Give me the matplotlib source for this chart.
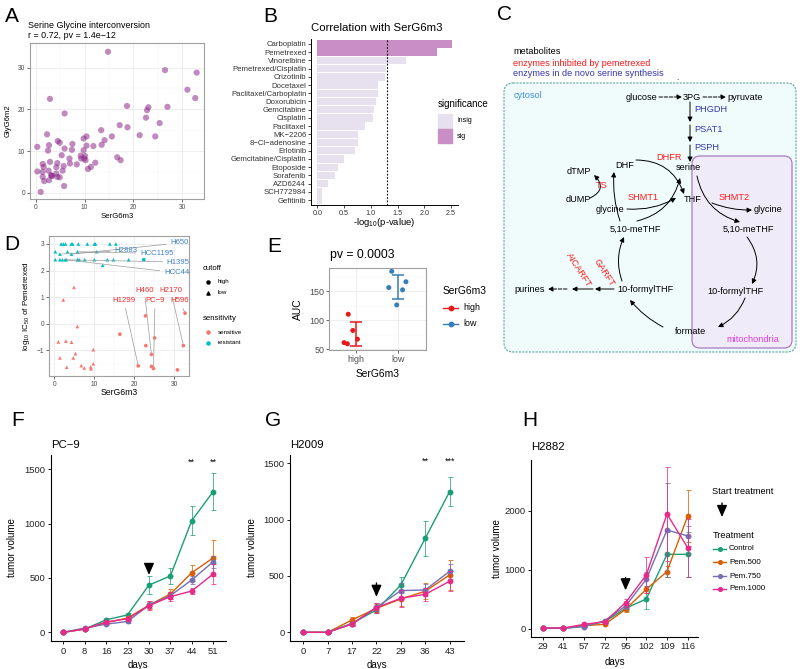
import numpy as np
import matplotlib
matplotlib.use('Agg')
import matplotlib.pyplot as plt
from matplotlib.patches import FancyBboxPatch, Rectangle

plt.rcParams['font.family'] = ['Liberation Sans', 'DejaVu Sans']
plt.rcParams['mathtext.default'] = 'regular'

W, H = 800, 669

# ---------------- data ----------------
# A: SerG6m3 vs GlyG6m2
a_ser = [14.8, 26.5, 33.0, 31.1, 32.7, 2.9, 18.7, 23.1, 27.0, 22.8, 22.6, 5.9, 17.2, 18.8,
         25.4, 13.4, 15.6, 21.3, 24.5, 2.3, 10.4, 9.8, 14.1, 4.5, 4.9, 0.3, 2.7, 7.5, 11.8,
         13.5, 10.4, 2.5, 9.8, 7.4, 5.9, 5.3, 9.2, 10.1, 9.3, 9.9, 6.9, 16.7, 17.4, 2.9, 10.2,
         12.2, 8.4, 7.0, 4.4, 1.4, 1.6, 10.7, 11.3, 5.7, 0.3, 1.4, 4.2, 2.6, 3.1, 3.3, 2.7,
         1.7, 5.5, 4.4, 4.9, 1.4, 5.8, 1.0, 4.2, 3.3]
a_gly = [33.8, 29.4, 28.8, 24.7, 22.7, 22.5, 20.8, 20.5, 20.6, 19.8, 18.0, 19.0, 16.2, 15.7,
         16.7, 15.0, 13.5, 13.8, 13.5, 14.0, 13.5, 13.0, 12.6, 12.4, 12.0, 11.0, 11.4, 11.7,
         11.2, 11.5, 11.3, 10.1, 10.2, 10.3, 10.6, 9.0, 8.9, 8.8, 8.2, 8.2, 8.2, 8.5, 7.8, 7.4,
         7.8, 7.2, 6.8, 7.0, 7.1, 6.9, 6.2, 5.7, 6.2, 6.4, 5.1, 5.0, 6.1, 5.3, 4.2, 4.1, 3.0,
         2.8, 5.3, 3.8, 3.7, 3.8, 1.6, 0.2, 4.6, 4.0]

# B: correlation with SerG6m3
b_drugs = ['Carboplatin', 'Pemetrexed', 'Vinorelbine', 'Pemetrexed/Cisplatin', 'Crizotinib',
           'Docetaxel', 'Paclitaxel/Carboplatin', 'Doxorubicin', 'Gemcitabine', 'Cisplatin',
           'Paclitaxel', 'MK\u22122206', '8\u2212Cl\u2212adenosine', 'Erlotinib',
           'Gemcitabine/Cisplatin', 'Etoposide', 'Sorafenib', 'AZD6244', 'SCH772984', 'Gefitinib']
b_logp = [2.52, 2.23, 1.65, 1.28, 1.26, 1.14, 1.13, 1.10, 1.05, 1.04, 0.89, 0.76, 0.75, 0.70,
          0.49, 0.39, 0.32, 0.19, 0.09, 0.08]
b_sig = ['sig', 'sig'] + ['insig'] * 18

# D: IC50 of pemetrexed
d_ser = [1.7, 2.25, 2.8, 4.25, 4.6, 6.0, 8.25, 10.0, 10.3, 13.9, 15.4,
         0.25, 1.4, 3.3, 4.3, 5.8, 10.6,
         0.25, 1.4, 2.0, 2.7, 3.0, 5.8, 6.2, 7.6, 10.0, 13.25, 14.8, 18.6, 22.4, 12.1,
         4.9, 2.25, 5.75, 1.0, 2.9, 4.3, 9.75, 5.3, 1.4, 4.75, 9.75, 6.75, 7.5, 9.1, 9.2, 3.1,
         16.4, 21.0, 22.8, 22.9, 24.3, 25.1, 24.3, 24.8, 32.7, 32.3, 30.8]
d_ic50 = [3.0] * 11 + [2.71, 2.62, 2.71, 2.62, 2.71, 2.71] + [2.41] * 13 + [2.2] + \
         [1.37, 0.9, -0.1, -0.68, -0.65, -0.69, -0.97, -1.12, -1.28, -1.28, -1.5, -1.57,
          -1.66, -1.62, -1.69, -1.63,
          -0.39, -1.58, 0.3, -0.82, -1.15, -0.53, -1.6, -1.68, 0.4, -0.82, -1.73]
d_cutoff = ['low'] * 29 + ['high'] + ['low'] + ['low'] * 16 + ['high'] * 11
d_sens = ['resistant'] * 31 + ['sensitive'] * 27
d_lab = ['H650', 'H2883', 'HCC1195', 'H1395', 'HCC44', 'H460', 'H2170', 'H1299', 'PC\u22129', 'H596']
d_lab_xy = [(31.4, 3.04), (17.9, 2.75), (25.6, 2.65), (31.0, 2.32), (30.6, 1.92),
            (22.5, 1.27), (29.1, 1.27), (17.4, 0.86), (25.2, 0.86), (31.4, 0.86)]
d_lab_pt = [(4.3, 2.62), (1.4, 2.62), (5.8, 2.71), (2.0, 2.41), (2.7, 2.41),
            (24.3, -1.15), (32.3, -0.82), (21.0, -1.58), (24.8, -1.68), (32.7, 0.4)]

# E: AUC by SerG6m3 group
e_groups = ['high', 'low']
e_high = [110, 82, 67, 61, 59]
e_high_jit = [-0.18, -0.07, 0.04, -0.28, -0.2]
e_low = [184, 156, 166, 152, 126]
e_low_jit = [-0.14, -0.21, 0.2, 0.12, -0.02]

# F/G/H: tumor growth
treat = ['Control', 'Pem.500', 'Pem.750', 'Pem.1000']
f_days = ['0', '8', '16', '23', '30', '37', '44', '51']
f_mean = {'Control': [0, 30, 115, 160, 435, 518, 1028, 1295],
          'Pem.500': [0, 30, 90, 130, 250, 352, 548, 685],
          'Pem.750': [0, 40, 75, 100, 250, 337, 482, 650],
          'Pem.1000': [0, 30, 95, 125, 245, 328, 380, 537]}
f_err = {'Control': [5, 10, 15, 20, 85, 75, 135, 170],
         'Pem.500': [5, 8, 12, 15, 35, 45, 72, 168],
         'Pem.750': [5, 8, 10, 15, 30, 35, 40, 55],
         'Pem.1000': [5, 8, 12, 15, 40, 40, 30, 95]}
f_stars = {'44': '**', '51': '**'}

g_days = ['0', '7', '17', '22', '29', '36', '43']
g_mean = {'Control': [0, 0, 80, 198, 420, 834, 1248],
          'Pem.500': [0, 0, 110, 213, 296, 364, 509],
          'Pem.750': [0, 0, 74, 222, 370, 376, 541],
          'Pem.1000': [0, 0, 74, 219, 302, 337, 453]}
g_err = {'Control': [3, 3, 15, 30, 74, 157, 128],
         'Pem.500': [3, 3, 25, 35, 60, 70, 133],
         'Pem.750': [3, 3, 15, 35, 70, 55, 65],
         'Pem.1000': [3, 3, 15, 45, 75, 60, 90]}
g_stars = {'36': '**', '43': '***'}

h_days = ['29', '41', '57', '72', '95', '102', '109', '116']
h_mean = {'Control': [11, 11, 50, 124, 350, 508, 1265, 1265],
          'Pem.500': [11, 11, 56, 79, 333, 672, 972, 1915],
          'Pem.750': [11, 11, 40, 141, 390, 842, 1678, 1576],
          'Pem.1000': [17, 17, 79, 124, 446, 915, 1949, 1378]}
h_err = {'Control': [5, 5, 15, 20, 50, 170, 380, 380],
         'Pem.500': [5, 5, 15, 20, 50, 60, 90, 440],
         'Pem.750': [5, 5, 15, 20, 50, 120, 800, 170],
         'Pem.1000': [5, 5, 15, 20, 70, 300, 800, 490]}

treat_col = {'Control': '#1B9E77', 'Pem.500': '#D95F02', 'Pem.750': '#7570B3', 'Pem.1000': '#E7298A'}


def box(l, t, r, b):
    return [l / W, 1 - b / H, (r - l) / W, (b - t) / H]


def bw(ax, xminor, yminor, lsize=4.8):
    ax.set_axisbelow(True)
    ax.set_xticks(xminor, minor=True)
    ax.set_yticks(yminor, minor=True)
    ax.grid(True, which='major', color='#EBEBEB', lw=0.6)
    ax.grid(True, which='minor', color='#F5F5F5', lw=0.35)
    ax.tick_params(which='minor', length=0)
    ax.tick_params(which='major', length=2.2, width=0.5, color='#333333',
                   labelsize=lsize, labelcolor='#4D4D4D', pad=1.2)
    for s in ax.spines.values():
        s.set_color('#A0A0A0')
        s.set_linewidth(0.8)


fig = plt.figure(figsize=(8, 6.69), dpi=100)
ov = fig.add_axes([0, 0, 1, 1])
ov.set_xlim(0, W)
ov.set_ylim(H, 0)
ov.axis('off')
ov.set_zorder(10)

for lab, x, y in [('A', 12, 16), ('B', 270, 16), ('C', 505, 14), ('D', 12, 245),
                  ('E', 274, 246), ('F', 18, 420), ('G', 273, 420), ('H', 530, 420)]:
    ov.text(x, y, lab, fontsize=15, ha='center', va='center')

# ---------------- A ----------------
axA = fig.add_axes(box(30, 43, 204, 199))
axA.scatter(a_ser, a_gly, s=20, color='#8E2B8C', alpha=0.55, edgecolors='none')
axA.set_xlim(-1.2, 34.5)
axA.set_ylim(-1.5, 35.9)
axA.set_xticks([0, 10, 20, 30])
axA.set_yticks([0, 10, 20, 30])
bw(axA, [5, 15, 25], [5, 15, 25, 35])
axA.set_xlabel('SerG6m3', fontsize=5.6)
axA.set_ylabel('GlyG6m2', fontsize=5.6)
axA.xaxis.set_label_coords(0.5, -0.09)
axA.yaxis.set_label_coords(-0.103, 0.5)
ov.text(28, 25, 'Serine Glycine interconversion', fontsize=6.4, ha='left', va='center')
ov.text(28, 36, 'r = 0.72, pv = 1.4e\u221212', fontsize=6.4, ha='left', va='center')

# ---------------- B ----------------
axB = fig.add_axes(box(311, 39, 458, 205))
b_col = {'insig': '#E6E0EF', 'sig': '#C98EC6'}
axB.barh(range(len(b_drugs)), b_logp, height=0.9, color=[b_col[s] for s in b_sig])
axB.axvline(-np.log10(0.05), color='black', lw=0.8, ls=(0, (1.5, 1.5)))
axB.set_ylim(len(b_drugs) - 0.4, -0.6)
axB.set_xlim(-0.12, 2.63)
axB.set_yticks(range(len(b_drugs)))
axB.set_yticklabels(b_drugs)
axB.set_xticks([0, 0.5, 1.0, 1.5, 2.0, 2.5])
axB.set_xticklabels(['0.0', '0.5', '1.0', '1.5', '2.0', '2.5'])
axB.tick_params(axis='y', labelsize=5.6, length=2.2, width=0.5, pad=1.2, labelcolor='#333333')
axB.tick_params(axis='x', labelsize=5.2, length=2.2, width=0.5, pad=1.5, labelcolor='#333333')
for s in ['top', 'right']:
    axB.spines[s].set_visible(False)
for s in ['left', 'bottom']:
    axB.spines[s].set_linewidth(0.7)
axB.set_xlabel('-log$_{10}$(p-value)', fontsize=6.8)
axB.xaxis.set_label_coords(0.5, -0.065)
ov.text(377, 28, 'Correlation with SerG6m3', fontsize=8.2, ha='center', va='center')
ov.text(438, 104, 'significance', fontsize=7, ha='left', va='center')
ov.add_patch(Rectangle((438, 114), 14, 14, color=b_col['insig']))
ov.add_patch(Rectangle((438, 129), 14, 14, color=b_col['sig']))
ov.text(457, 121, 'insig', fontsize=5, ha='left', va='center')
ov.text(457, 136, 'sig', fontsize=5, ha='left', va='center')

# ---------------- C ----------------
red, blue = '#FF1A1A', '#3434B0'
ov.add_patch(FancyBboxPatch((504, 83), 292, 269, boxstyle='round,pad=0,rounding_size=9',
                            facecolor='#F0FCFC', edgecolor='#5FA9A2', lw=0.8, ls=(0, (2, 1))))
ov.add_patch(FancyBboxPatch((692, 156), 100, 192, boxstyle='round,pad=0,rounding_size=8',
                            facecolor='#EFEBF8', edgecolor='#A77BC0', lw=0.9))
c_text = [('metabolites', 513, 52, 'black', 'left'),
          ('enzymes inhibited by pemetrexed', 513, 63, red, 'left'),
          ('enzymes in de novo serine synthesis', 513, 74, blue, 'left'),
          ('cytosol', 514, 96, '#3D8FDB', 'left'),
          ('glucose', 641, 97, 'black', 'center'), ('3PG', 692, 97, 'black', 'center'),
          ('pyruvate', 745, 97, 'black', 'center'),
          ('PHGDH', 694, 110, blue, 'left'), ('PSAT1', 694, 130, blue, 'left'),
          ('PSPH', 694, 148, blue, 'left'),
          ('serine', 688, 168, 'black', 'center'), ('DHFR', 669, 158, red, 'center'),
          ('DHF', 625, 165, 'black', 'center'), ('dTMP', 579, 172, 'black', 'center'),
          ('TS', 602, 186, red, 'center'), ('dUMP', 578, 199, 'black', 'center'),
          ('SHMT1', 643, 197, red, 'center'), ('THF', 693, 199, 'black', 'center'),
          ('SHMT2', 734, 197, red, 'center'), ('glycine', 610, 209, 'black', 'center'),
          ('glycine', 768, 210, 'black', 'center'), ('5,10-meTHF', 635, 229, 'black', 'center'),
          ('5,10-meTHF', 748, 229, 'black', 'center'), ('purines', 530, 289, 'black', 'center'),
          ('10-formylTHF', 645, 289, 'black', 'center'),
          ('10-formylTHF', 735, 291, 'black', 'center'),
          ('formate', 691, 332, 'black', 'center'), ('mitochondria', 753, 339, '#E03CE0', 'center')]
for t, x, y, c, ha in c_text:
    ov.text(x, y, t, fontsize=6.6, color=c, ha=ha, va='center')
ov.text(579, 270, 'AICARFT', fontsize=6.6, color=red, rotation=-57, ha='center', va='center')
ov.text(604, 273, 'GARFT', fontsize=6.6, color=red, rotation=-57, ha='center', va='center')
ov.text(677, 78, '.', fontsize=6, ha='center', va='center')

c_arrows = [(659, 97, 682, 97, 0, '--'), (703, 97, 726, 97, 0, '--'),
            (690, 102, 690, 122, 0, '-'), (690, 125, 690, 142, 0, '-'),
            (690, 145, 690, 162, 0, '-'),
            (636, 160, 684, 194, -0.35, '-'), (590, 198, 594, 175, 0.7, '-'),
            (620, 221, 614, 172, -0.1, '-'), (637, 221, 680, 178, 0.3, '-'),
            (627, 209, 676, 198, 0.15, '-'), (697, 176, 740, 222, 0.3, '-'),
            (712, 203, 752, 210, 0.1, '-'), (747, 237, 752, 284, -0.3, '-'),
            (745, 298, 718, 327, -0.2, '-'), (663, 327, 630, 300, -0.1, '-'),
            (622, 281, 624, 237, -0.2, '-'), (614, 289, 595, 289, 0, '-'),
            (593, 289, 572, 289, 0, '-'), (567, 289, 548, 289, 0, '--')]
for x0, y0, x1, y1, rad, ls in c_arrows:
    ov.annotate('', xy=(x1, y1), xytext=(x0, y0),
                arrowprops=dict(arrowstyle='-|>', color='black', lw=0.7, ls=ls,
                                mutation_scale=7, shrinkA=0, shrinkB=0,
                                connectionstyle='arc3,rad=%s' % rad))

# ---------------- D ----------------
axD = fig.add_axes(box(49, 236, 189, 376))
d_ser = np.array(d_ser)
d_ic50 = np.array(d_ic50)
d_col = {'sensitive': '#F8766D', 'resistant': '#00BFC4'}
d_mk = {'high': 'o', 'low': '^'}
for cut in ['high', 'low']:
    for sen in ['sensitive', 'resistant']:
        m = np.array([(c == cut and s == sen) for c, s in zip(d_cutoff, d_sens)])
        axD.scatter(d_ser[m], d_ic50[m], s=7, marker=d_mk[cut], color=d_col[sen],
                    edgecolors='none', zorder=3)
for lab, (tx, ty), (px, py) in zip(d_lab, d_lab_xy, d_lab_pt):
    col = '#3F82C4' if ty > 1.5 else '#EE3030'
    axD.annotate(lab, xy=(px, py), xytext=(tx, ty), fontsize=5.6, color=col,
                 ha='center', va='center', zorder=4,
                 arrowprops=dict(arrowstyle='-', color='#9A9A9A', lw=0.5, shrinkA=1, shrinkB=1))
axD.set_xlim(-1.33, 33.7)
axD.set_ylim(-1.96, 3.3)
axD.set_xticks([0, 10, 20, 30])
axD.set_yticks([-1, 0, 1, 2, 3])
bw(axD, [5, 15, 25], [-1.5, -0.5, 0.5, 1.5, 2.5])
axD.set_xlabel('SerG6m3', fontsize=6.2)
axD.set_ylabel('log$_{10}$ IC$_{50}$ of Pemetrexed', fontsize=5.8)
axD.xaxis.set_label_coords(0.5, -0.085)
axD.yaxis.set_label_coords(-0.12, 0.5)
ov.text(203, 268, 'cutoff', fontsize=5.6, ha='left', va='center')
ov.scatter([208], [282], s=5, marker='o', color='black')
ov.scatter([208], [293], s=5, marker='^', color='black')
ov.text(218, 282, 'high', fontsize=4.5, ha='left', va='center')
ov.text(218, 293, 'low', fontsize=4.5, ha='left', va='center')
ov.text(203, 318, 'sensitivity', fontsize=5.6, ha='left', va='center')
ov.scatter([208], [332], s=5, marker='o', color=d_col['sensitive'])
ov.scatter([208], [343], s=5, marker='o', color=d_col['resistant'])
ov.text(218, 332, 'sensitive', fontsize=4.5, ha='left', va='center')
ov.text(218, 343, 'resistant', fontsize=4.5, ha='left', va='center')

# ---------------- E ----------------
axE = fig.add_axes(box(329, 268, 426, 350))
e_col = {'high': '#E41A1C', 'low': '#377EB8'}
for i, (g, vals, jit) in enumerate(zip(e_groups, [e_high, e_low], [e_high_jit, e_low_jit])):
    xpos = i + 1
    axE.scatter(np.array(jit) + xpos, vals, s=13, color=e_col[g], edgecolors='none', zorder=3)
    axE.errorbar([xpos], [np.mean(vals)], yerr=[np.std(vals, ddof=1)], color=e_col[g],
                 lw=1.1, capsize=4, capthick=1.1, fmt='none', zorder=4)
axE.set_xlim(0.36, 2.68)
axE.set_ylim(48.3, 189.7)
axE.set_xticks([1, 2])
axE.set_xticklabels(e_groups)
axE.set_yticks([50, 100, 150])
bw(axE, [], [75, 125, 175], lsize=6.4)
axE.set_xlabel('SerG6m3', fontsize=7.4)
axE.set_ylabel('AUC', fontsize=7.4)
axE.xaxis.set_label_coords(0.5, -0.23)
axE.yaxis.set_label_coords(-0.27, 0.5)
ov.text(330, 255, 'pv = 0.0003', fontsize=8.8, ha='left', va='center')
ov.text(443, 291, 'SerG6m3', fontsize=7.4, ha='left', va='center')
for g, y in [('high', 308), ('low', 324)]:
    ov.plot([443, 458], [y, y], color=e_col[g], lw=1)
    ov.scatter([450.5], [y], s=10, color=e_col[g], zorder=5)
    ov.text(463, y, g, fontsize=6.4, ha='left', va='center')


# ---------------- F / G / H ----------------
def growth(rect, days, means, errs, xlim, ylim, yticks, arrow, stars, title, tx, ty, ylab_x, xlab_y):
    ax = fig.add_axes(box(*rect))
    x = np.arange(1, len(days) + 1)
    for name in treat:
        c = treat_col[name]
        ax.errorbar(x, means[name], yerr=errs[name], fmt='none', ecolor=c, elinewidth=0.7,
                    capsize=1.8, capthick=0.7, alpha=0.75)
        ax.plot(x, means[name], color=c, lw=1, marker='o', ms=3.2)
    i = days.index(arrow[0])
    ax.annotate('', xy=(i + 1, arrow[2]), xytext=(i + 1, arrow[1]),
                arrowprops=dict(arrowstyle='-|>,head_length=0.5,head_width=0.22', color='black',
                                lw=1.0, mutation_scale=14, shrinkA=0, shrinkB=0))
    for d, s in stars.items():
        ax.text(days.index(d) + 1, stars_y[title], s, fontsize=6.5, ha='center', va='center')
    ax.set_xlim(*xlim)
    ax.set_ylim(*ylim)
    ax.set_xticks(x)
    ax.set_xticklabels(days)
    ax.set_yticks(yticks)
    ax.tick_params(labelsize=6.8, length=2.5, width=0.6, pad=1.5, labelcolor='#222222')
    for s in ['top', 'right']:
        ax.spines[s].set_visible(False)
    for s in ['left', 'bottom']:
        ax.spines[s].set_linewidth(0.8)
    ax.set_xlabel('days', fontsize=7)
    ax.set_ylabel('tumor volume', fontsize=7)
    ax.xaxis.set_label_coords(0.5, xlab_y)
    ax.yaxis.set_label_coords(ylab_x, 0.5)
    ov.text(tx, ty, title, fontsize=8.2, ha='left', va='center')
    return ax


stars_y = {'PC\u22129': 1570, 'H2009': 1515, 'H2882': 0}
growth((50.7, 455, 226, 641), f_days, f_mean, f_err, (0.41, 8.6), (-80, 1632),
       [0, 500, 1000, 1500], ('30', 625, 528), f_stars, 'PC\u22129', 51, 445, -0.194, -0.102)
growth((290, 455, 464, 641), g_days, g_mean, g_err, (0.455, 7.59), (-77, 1573),
       [0, 500, 1000, 1500], ('22', 438, 315), g_stars, 'H2009', 290, 445, -0.19, -0.102)
growth((531, 460, 698, 636.7), h_days, h_mean, h_err, (0.43, 8.5), (-131, 2864),
       [0, 1000, 2000], ('95', 870, 655), {}, 'H2882', 531, 447, -0.174, -0.113)

ov.text(712, 492, 'Start treatment', fontsize=6.7, ha='left', va='center')
ov.annotate('', xy=(722, 517), xytext=(722, 503),
            arrowprops=dict(arrowstyle='-|>,head_length=0.5,head_width=0.22', color='black',
                            lw=1.0, mutation_scale=14, shrinkA=0, shrinkB=0))
ov.text(713, 536, 'Treatment', fontsize=6.7, ha='left', va='center')
for name, y in zip(treat, [549, 562, 576, 589]):
    ov.plot([713, 726], [y, y], color=treat_col[name], lw=1)
    ov.scatter([719.5], [y], s=7, color=treat_col[name], zorder=5)
    ov.text(729, y, name, fontsize=5.8, ha='left', va='center')

fig.savefig('out.png', dpi=100)
